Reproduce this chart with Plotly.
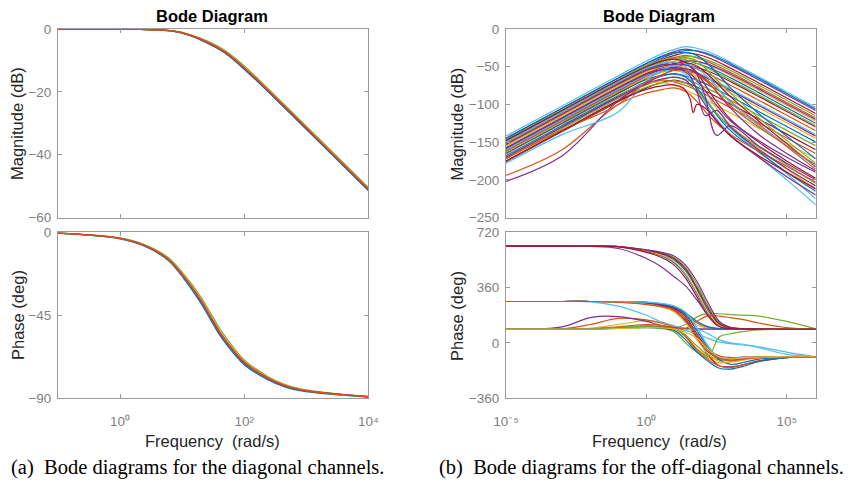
import plotly.graph_objects as go

# ---------------- colours / fonts ----------------
MATLAB = ['#0072BD', '#D95319', '#EDB120', '#7E2F8E', '#77AC30', '#4DBEEE', '#A2142F']
SANS = 'Liberation Sans, Arial, sans-serif'
SERIF = 'Liberation Serif, Times New Roman, serif'
AXC = '#9a9a9a'
TICKC = '#7f7f7f'
LABC = '#262626'

# ---------------- (a) diagonal channels ----------------
diag_mag_logw = [-1, -0.5, 0, 0.33, 0.87, 1.14, 1.4, 1.68, 1.95, 2.22, 2.48, 3.02, 3.56, 4.0]
diag_mag = [
    [0, 0, -0.05, -0.15, -0.75, -2.2, -4.4, -7.5, -11.9, -16.8, -21.8, -32.3, -42.8, -51.4],   # blue
    [0, 0, -0.04, -0.12, -0.62, -1.85, -3.8, -6.7, -10.9, -15.8, -20.8, -31.3, -41.8, -50.4],  # green
    [0, 0, -0.05, -0.15, -0.72, -2.1, -4.25, -7.3, -11.6, -16.5, -21.5, -32.0, -42.5, -51.1],  # purple
    [0, 0, -0.05, -0.14, -0.68, -2.0, -4.1, -7.1, -11.4, -16.3, -21.3, -31.8, -42.3, -50.9],   # cyan
    [0, 0, -0.04, -0.13, -0.65, -1.95, -4.0, -7.0, -11.3, -16.2, -21.2, -31.7, -42.2, -50.8],  # yellow
    [0, 0, -0.05, -0.15, -0.7, -2.05, -4.15, -7.2, -11.5, -16.4, -21.4, -31.9, -42.4, -51.0],  # dark red
    [0, 0, -0.05, -0.15, -0.7, -2.05, -4.1, -7.15, -11.45, -16.35, -21.35, -31.85, -42.35, -50.95],  # orange
]
diag_phase_logw = [-1, 0, 0.38, 0.76, 1.03, 1.3, 1.46, 1.62, 1.84, 2.0, 2.38, 2.65, 2.92, 3.46, 4.0]
diag_phase = [
    [-0.5, -3.5, -7.3, -14.8, -25.2, -38.3, -47.5, -56.5, -66.0, -71.8, -80.0, -83.8, -86.0, -88.0, -89.3],
    [-0.5, -3.1, -6.5, -13.3, -22.8, -35.0, -44.0, -53.0, -63.0, -69.2, -78.2, -82.5, -85.1, -87.5, -89.1],
    [-0.5, -3.4, -7.1, -14.4, -24.5, -37.3, -46.5, -55.5, -65.1, -71.0, -79.4, -83.3, -85.6, -87.8, -89.2],
    [-0.5, -3.4, -7.0, -14.3, -24.3, -37.0, -46.2, -55.1, -64.8, -70.7, -79.2, -83.1, -85.5, -87.7, -89.2],
    [-0.5, -3.2, -6.8, -13.9, -23.7, -36.2, -45.2, -54.2, -64.0, -70.0, -78.7, -82.8, -85.3, -87.6, -89.2],
    [-0.5, -3.35, -7.0, -14.2, -24.2, -36.9, -46.0, -55.0, -64.7, -70.6, -79.1, -83.1, -85.5, -87.7, -89.2],
    [-0.5, -3.3, -6.9, -14.1, -24.0, -36.7, -45.8, -54.8, -64.5, -70.4, -79.0, -83.0, -85.5, -87.7, -89.2],
]
diag_colors = ['#0072BD', '#77AC30', '#7E2F8E', '#4DBEEE', '#EDB120', '#A2142F', '#D95319']

# ---------------- (b) off-diagonal channels ----------------
off_logw = [-5, -3, -1, 0, 0.6, 1.0, 1.4, 1.8, 2.3, 3.0, 4.0, 5.0, 6.03]
off_mag = [
    [-142, -102, -62, -42.5, -32, -27, -23.5, -25.5, -31.5, -44, -63.5, -83.5, -104],
    [-145, -105, -65, -45.6, -35.2, -30, -26.7, -29.4, -35.5, -47.9, -67.4, -87.4, -108],
    [-148, -108, -68, -48.5, -37.7, -31.9, -28.5, -29, -34.2, -46, -65.4, -85.4, -106],
    [-150, -110, -70, -50.5, -40, -35, -31.5, -33.5, -39.5, -52, -71.5, -91.5, -112],
    [-152, -112, -72, -52.7, -42.6, -37.9, -35.1, -38.5, -45.3, -57.8, -77.4, -97.4, -118],
    [-155, -115, -75, -55.5, -44.9, -39.4, -36.1, -37.3, -42.9, -54.9, -74.4, -94.4, -115],
    [-157, -117, -77, -57.6, -47.5, -42.6, -39.4, -42.8, -49.4, -61.8, -81.4, -101.4, -122],
    [-160, -120, -80, -60.6, -50.5, -45.6, -42.4, -45.8, -52.4, -64.8, -84.4, -104.4, -125],
    [-162, -122, -82, -62.5, -51.7, -45.9, -42.5, -43, -48.2, -60, -79.4, -99.4, -120],
    [-165, -125, -85, -65.6, -55.5, -50.6, -47.4, -50.8, -57.4, -69.8, -89.4, -109.4, -130],
    [-147, -107, -67.2, -48.6, -40.6, -37.4, -40.8, -45.8, -54.2, -67.6, -87.4, -107.4, -128],
    [-153, -113, -73.2, -54.8, -47, -44, -47.6, -52.8, -61.2, -74.6, -94.4, -114.4, -135],
    [-158, -118, -78.2, -59.8, -52, -49, -52.6, -57.8, -66.2, -79.6, -99.4, -119.4, -140],
    [-163, -123, -83.2, -64.8, -57, -54, -57.6, -62.8, -71.2, -84.6, -104.4, -124.4, -145],
    [-168, -128, -88.2, -69.8, -62, -59, -62.6, -67.8, -76.2, -89.6, -109.4, -129.4, -150],
    [-172, -132, -92.2, -74, -66.2, -63.4, -67, -72.4, -81, -94.6, -114.4, -134.4, -155],
    [-176, -136, -96.3, -78, -70.5, -67.6, -71.3, -76.9, -85.8, -99.6, -119.4, -139.4, -160],
    [-150, -110, -70.4, -52.9, -47.1, -48.3, -52.5, -58.8, -67.9, -81.5, -101.4, -121.4, -142],
    [-170, -130, -90.4, -73.4, -67.7, -70.4, -75, -81.5, -90.8, -104.5, -124.4, -144.4, -165],
    [-166, -126, -86.7, -71.9, -71, -74.8, -80.9, -88, -97.6, -111.4, -131.4, -151.4, -172],
    [-150, -110, -70, -51, -42, -39, -38, -42, -60, -85, -118, -148, -178],
    [-158, -118, -78, -59, -50, -46, -45, -49, -64, -90, -122, -152, -183],
    [-145, -105, -65, -46, -36, -32, -31, -35, -50, -78, -112, -142, -172],
    [-162, -122, -82, -63, -55, -52, -53, -58, -72, -96, -126, -156, -186],
    [-160, -120, -80, -62, -56, -55, -60, -78, -110, -140, -170, -200, -233],
    [-150, -110, -70, -52, -45, -44, -50, -70, -102, -132, -162, -192, -225],
    [-170, -130, -90, -72, -66, -64, -68, -84, -112, -142, -170, -196, -220],
    [-155, -115, -75, -57, -50, -48, -52, -66, -95, -128, -158, -186, -212],
    [-165, -125, -85, -67, -61, -60, -64, -78, -104, -135, -163, -190, -215],
    [-175, -135, -95, -77, -71, -69, -72, -82, -104, -130, -156, -180, -205],
    [-148, -108, -68, -50, -42, -40, -44, -58, -86, -120, -150, -175, -198],
    [-158, -118, -78, -60, -53, -51, -55, -68, -92, -122, -148, -170, -190],
    [-194, -160, -100, -85, -80, -78, -83, -96, -118, -140, -162, -182, -203],
    [-202, -168, -95, -72, -60, -54, -53, -58, -75, -105, -140, -165, -188],
    [-178, -140, -110, -68, -54, -48, -47, -52, -68, -98, -128, -155, -182],
    [-172, -134, -100, -70, -60, -55, -55, -60, -75, -102, -130, -155, -180],
]
# colour index (MATLAB order) of each curve in off_mag
off_mag_color = [5, 3, 0, 6, 1, 4, 2, 0, 3, 6, 4, 1, 5, 2, 0, 4, 6, 3, 1, 2,
                 4, 6, 0, 1, 5, 5, 3, 2, 0, 4, 6, 3, 1, 3, 5, 1]
off_notch_logw = [-5, -3, -1, 0, 0.6, 1.0, 1.3, 1.55, 1.67, 1.8, 2.1, 2.5, 3.0, 4.0, 5.0, 6.03]
off_notch_mag = [
    [-175, -135, -95, -80, -75, -74, -78, -92, -111, -100, -105, -122, -142, -168, -190, -212],
    [-158, -118, -78, -60, -54, -53, -55, -62, -70, -82, -115, -108, -130, -160, -185, -208],
    [-153, -113, -73, -55, -49, -47, -47, -50, -54, -60, -90, -141, -128, -155, -178, -200],
]
off_notch_color = [6, 3, 3]
off_phase_logw = [-5, -3, -2, -1, 0, 0.5, 1.0, 1.4, 1.8, 2.2, 2.6, 3.0, 3.5, 4.0, 5.0, 6.03]
off_phase = [
    [630, 630, 630, 627, 595, 570, 520, 440, 320, 190, 110, 95, 92, 91, 90, 90],
    [270, 270, 270, 269, 262, 250, 225, 180, 130, 100, 93, 91, 90, 90, 90, 90],
    [90, 90, 95, 120, 145, 135, 110, 50, -40, -100, -130, -120, -105, -95, -90, -90],
    [630, 630, 628, 615, 550, 500, 430, 370, 280, 180, 110, 96, 92, 91, 90, 90],
    [90, 90, 91, 100, 112, 110, 100, 120, 170, 192, 190, 185, 180, 175, 140, 92],
    [270, 270, 268, 240, 180, 140, 110, 96, 92, 91, 90, 90, 90, 90, 90, 90],
    [270, 270, 270, 268, 260, 248, 220, 150, 40, -80, -150, -155, -140, -120, -95, -90],
    [630, 630, 630, 628, 600, 580, 540, 470, 350, 210, 120, 97, 92, 91, 90, 90],
    [90, 92, 120, 160, 150, 130, 100, 40, -40, -90, -110, -110, -100, -93, -90, -90],
    [270, 270, 270, 268, 255, 240, 210, 160, 115, 96, 92, 91, 90, 90, 90, 90],
    [90, 105, 165, 172, 140, 115, 100, 93, 91, 90, 90, 90, 90, 90, 90, 90],
    [630, 630, 630, 628, 605, 588, 555, 490, 380, 240, 130, 100, 93, 91, 90, 90],
    [90, 90, 92, 100, 110, 105, 92, 80, 60, 30, 5, -5, -15, -25, -60, -90],
    [270, 270, 270, 269, 262, 250, 225, 170, 60, -40, -85, -95, -92, -90, -90, -90],
    [270, 270, 270, 269, 265, 255, 235, 195, 140, 105, 94, 91, 90, 90, 90, 90],
    [90, 90, 92, 105, 120, 115, 95, 40, -50, -110, -150, -160, -140, -115, -95, -90],
    [630, 630, 630, 627, 598, 575, 530, 450, 330, 200, 115, 96, 92, 91, 90, 90],
    [270, 270, 270, 268, 258, 245, 210, 140, 30, -60, -100, -110, -100, -92, -90, -90],
    [90, 90, 91, 100, 110, 105, 90, 50, -20, -80, -100, -100, -95, -92, -90, -90],
    [90, 90, 91, 98, 105, 100, 90, 85, 90, 60, 20, 0, -10, -30, -75, -90],
    [630, 630, 630, 628, 603, 585, 548, 480, 360, 225, 125, 98, 92, 91, 90, 90],
    [270, 270, 270, 269, 264, 255, 235, 185, 80, -30, -110, -140, -125, -105, -92, -90],
    [90, 90, 92, 100, 108, 105, 95, 95, 140, 178, 175, 165, 150, 130, 100, 90],
    [270, 270, 270, 267, 252, 235, 200, 130, 20, -70, -120, -125, -110, -98, -91, -90],
    [630, 630, 630, 628, 607, 592, 565, 505, 400, 260, 140, 102, 93, 91, 90, 90],
    [90, 90, 91, 100, 110, 100, 70, 0, -60, -90, 40, 60, 75, 85, 90, 90],
    [270, 270, 270, 269, 266, 258, 240, 200, 100, -20, -95, -105, -98, -93, -90, -90],
    [630, 630, 629, 626, 590, 560, 505, 420, 300, 175, 105, 94, 91, 90, 90, 90],
    [90, 90, 90, 95, 100, 95, 80, 20, -60, -120, -165, -170, -150, -120, -95, -90],
    [270, 270, 270, 266, 250, 238, 215, 160, 50, -50, -100, -115, -105, -95, -91, -90],
    [90, 90, 90, 94, 100, 98, 90, 70, 30, -40, -90, -100, -95, -92, -90, -90],
]

# tick labels
diag_xtickvals = [1, 100, 10000]
diag_xticktext = ['10\u2070', '10\u00b2', '10\u2074']
off_xtickvals = [1e-5, 1, 1e5]
off_xticktext = ['10\u207b\u2075', '10\u2070', '10\u2075']
diag_mag_ticks = [0, -20, -40, -60]
diag_phase_ticks = [0, -45, -90]
off_mag_ticks = [0, -50, -100, -150, -200, -250]
off_phase_ticks = [720, 360, 0, -360]

fig = go.Figure()


def add_line(xlog, y, color, xa, ya, width=1.2):
    fig.add_trace(go.Scatter(
        x=[10 ** v for v in xlog], y=y, mode='lines',
        line=dict(color=color, width=width, shape='spline', smoothing=1.0),
        xaxis=xa, yaxis=ya, hoverinfo='skip', showlegend=False))


for k, m in enumerate(diag_mag):
    add_line(diag_mag_logw, m, diag_colors[k], 'x', 'y', 1.3)
for k, p in enumerate(diag_phase):
    add_line(diag_phase_logw, p, diag_colors[k], 'x2', 'y2', 1.3)

for k, m in enumerate(off_mag):
    add_line(off_logw, m, MATLAB[off_mag_color[k]], 'x3', 'y3')
for k, m in enumerate(off_notch_mag):
    add_line(off_notch_logw, m, MATLAB[off_notch_color[k]], 'x3', 'y3')
for k, p in enumerate(off_phase):
    add_line(off_phase_logw, p, MATLAB[k % 7], 'x4', 'y4')

common = dict(showline=True, linecolor=AXC, linewidth=1, mirror='ticks', ticks='inside',
              ticklen=4, tickcolor=AXC, tickwidth=1, showgrid=False, zeroline=False,
              automargin=False, layer='above traces',
              tickfont=dict(family=SANS, size=13.5, color=TICKC))

# the page body has an 8px margin: the figure is placed at (8, 8) in the 855x487 window
OFF = 8
W, H = 855 - OFF, 487 - OFF
def dx(a, b):
    return [(a - OFF) / W, (b - OFF) / W]
def dy(top, bottom):
    return [1 - (bottom - OFF) / H, 1 - (top - OFF) / H]

L_X = dx(58, 368.3)
R_X = dx(506, 815.7)
MAG_Y = dy(29, 217.7)
PH_Y = dy(232.3, 398.3)

fig.update_layout(
    width=W, height=H, autosize=False,
    margin=dict(l=0, r=0, t=0, b=0, autoexpand=False),
    paper_bgcolor='white', plot_bgcolor='white',
    showlegend=False,
    xaxis=dict(common, type='log', range=[-1, 4], domain=L_X, anchor='y',
               tickvals=diag_xtickvals, showticklabels=False),
    yaxis=dict(common, range=[-60.05, 0], domain=MAG_Y, anchor='x',
               tickvals=diag_mag_ticks, ticklabelstandoff=3),
    xaxis2=dict(common, type='log', range=[-1, 4], domain=L_X, anchor='y2',
                tickvals=diag_xtickvals, ticktext=diag_xticktext, ticklabelstandoff=10),
    yaxis2=dict(common, range=[-90.05, 0], domain=PH_Y, anchor='x2',
                tickvals=diag_phase_ticks, ticklabelstandoff=3),
    xaxis3=dict(common, type='log', range=[-5, 6.03], domain=R_X, anchor='y3',
                tickvals=off_xtickvals, showticklabels=False),
    yaxis3=dict(common, range=[-250.2, 0], domain=MAG_Y, anchor='x3',
                tickvals=off_mag_ticks, ticklabelstandoff=3),
    xaxis4=dict(common, type='log', range=[-5, 6.03], domain=R_X, anchor='y4',
                tickvals=off_xtickvals, ticktext=off_xticktext, ticklabelstandoff=10),
    yaxis4=dict(common, range=[-360.5, 720.5], domain=PH_Y, anchor='x4',
                tickvals=off_phase_ticks, ticklabelstandoff=3),
)

ann = []
def text(x, y, s, size, color, family=SANS, angle=0, xanchor='center', bold=False):
    ann.append(dict(x=(x - OFF) / W, y=1 - (y - OFF) / H, xref='paper', yref='paper',
                    text=('<b>%s</b>' % s) if bold else s,
                    showarrow=False, textangle=angle, xanchor=xanchor, yanchor='middle',
                    font=dict(family=family, size=size, color=color)))

text(212, 16, 'Bode Diagram', 16.5, '#000000', bold=True)
text(659, 16, 'Bode Diagram', 16.5, '#000000', bold=True)
text(17, 124, 'Magnitude (dB)', 16.5, LABC, angle=-90)
text(17.5, 315.5, 'Phase (deg)', 16.5, LABC, angle=-90)
text(456.5, 124, 'Magnitude (dB)', 16.5, LABC, angle=-90)
text(456.5, 315.5, 'Phase (deg)', 16.5, LABC, angle=-90)
text(212, 440.5, 'Frequency  (rad/s)', 16.5, LABC)
text(659, 440.5, 'Frequency  (rad/s)', 16.5, LABC)
text(8.5, 467, '(a)  Bode diagrams for the diagonal channels.', 20.5, '#000000', family=SERIF, xanchor='left')
text(437, 467, '(b)  Bode diagrams for the off-diagonal channels.', 20.5, '#000000', family=SERIF, xanchor='left')
fig.update_layout(annotations=ann)

fig.write_html('out.html')
